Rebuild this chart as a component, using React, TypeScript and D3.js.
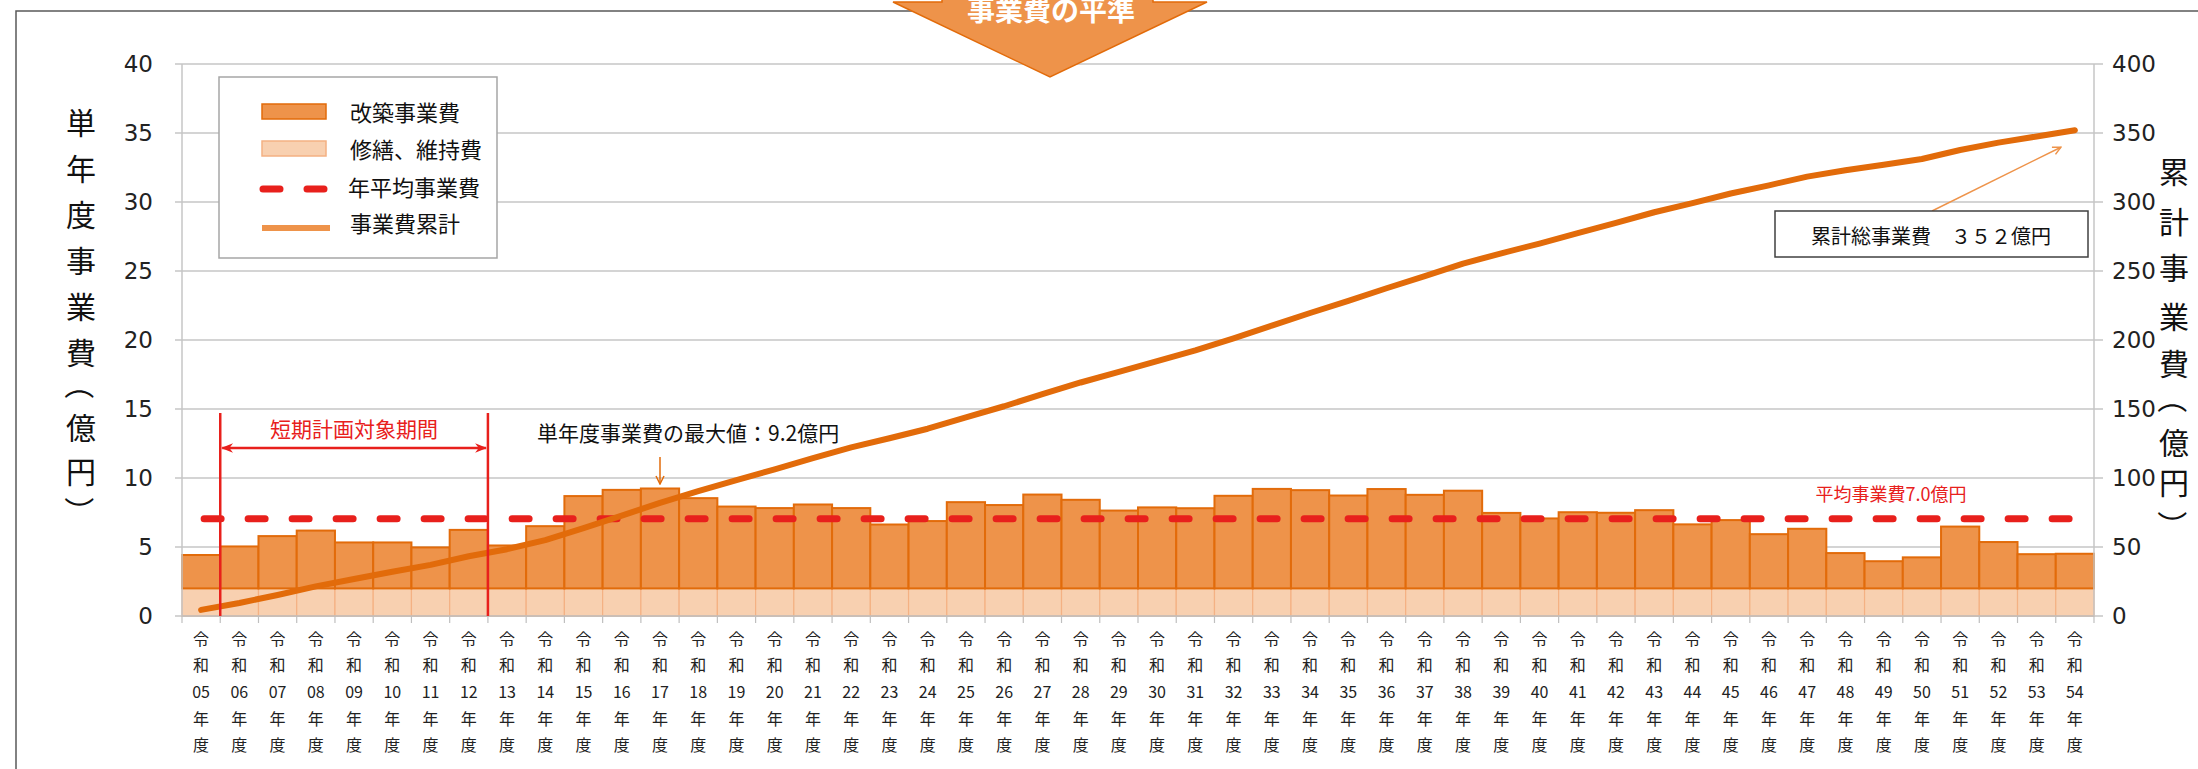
import React from 'react';
import * as d3 from 'd3';

const years = ['05','06','07','08','09','10','11','12','13','14','15','16','17','18','19','20','21','22','23','24','25','26','27','28','29','30','31','32','33','34','35','36','37','38','39','40','41','42','43','44','45','46','47','48','49','50','51','52','53','54'];

// 改築事業費 (億円)
const renovation = [2.42,3.04,3.79,4.19,3.33,3.33,2.97,4.24,3.11,4.51,6.69,7.14,7.24,6.54,5.93,5.82,6.08,5.82,4.63,4.88,6.25,6.04,6.80,6.42,5.64,5.87,5.81,6.71,7.21,7.12,6.73,7.20,6.78,7.08,5.47,5.07,5.52,5.48,5.67,4.64,4.95,3.93,4.32,2.56,1.97,2.25,4.48,3.36,2.48,2.51];

// 修繕、維持費 (億円)
const maintenance = [2,2,2,2,2,2,2,2,2,2,2,2,2,2,2,2,2,2,2,2,2,2,2,2,2,2,2,2,2,2,2,2,2,2,2,2,2,2,2,2,2,2,2,2,2,2,2,2,2,2];

// 事業費累計 (億円)
const cumulative = [4.42,9.46,15.25,21.44,26.77,32.10,37.07,43.31,48.42,54.93,63.62,72.76,82.00,90.54,98.47,106.29,114.37,122.19,128.82,135.70,143.95,151.99,160.79,169.21,176.85,184.72,192.53,201.24,210.45,219.57,228.30,237.50,246.28,255.36,262.83,269.90,277.42,284.90,292.57,299.21,306.16,312.09,318.41,322.97,326.94,331.19,337.67,343.03,347.51,352.02];

const averageCost = 7.04;
const leftTicks = [0,5,10,15,20,25,30,35,40];
const rightTicks = [0,50,100,150,200,250,300,350,400];

const JP = '"Noto Sans CJK JP", "Noto Sans", sans-serif';
const NUM = '"DejaVu Sans", Verdana, sans-serif';

const ORANGE = '#EE934A';
const ORANGE_DARK = '#E26B0A';
const LIGHT = '#F8D0B0';
const LIGHT_STROKE = '#F4B183';
const RED = '#E8201C';
const GRID = '#C6C6C6';

function VerticalTitle({ text, x, ys, size }: { text: string; x: number; ys: number[]; size: number }) {
  const chars = Array.from(text);
  return (
    <g fontFamily={JP} fontSize={size} fill="#111">
      {chars.map((c, i) => {
        const isOpen = c === '（';
        const isClose = c === '）';
        if (isOpen || isClose) {
          const cy = ys[i] + (isOpen ? -size * 0.25 : size * 0.25);
          return (
            <text key={i} x={x} y={cy} textAnchor="middle" dominantBaseline="central" transform={`rotate(90 ${x} ${cy})`}>{c}</text>
          );
        }
        return (
          <text key={i} x={x} y={ys[i]} textAnchor="middle" dominantBaseline="central">{c}</text>
        );
      })}
    </g>
  );
}

export default function App() {
  const W = 2198, H = 769;
  const left = 182, right = 2094, top = 64, bottom = 616;
  const x = d3.scaleBand<string>().domain(years).range([left, right]).padding(0);
  const bw = x.bandwidth();
  const cx = (y: string) => (x(y) as number) + bw / 2;
  const yL = d3.scaleLinear().domain([0, 40]).range([bottom, top]);
  const yR = d3.scaleLinear().domain([0, 400]).range([bottom, top]);

  const rows = years.map((y, i) => ({ year: y, maint: maintenance[i], renov: renovation[i] }));
  const series = d3.stack<any>().keys(['maint', 'renov'])(rows);

  const linePath = d3.line<number>()
    .x((_, i) => cx(years[i]))
    .y(d => yR(d))(cumulative) as string;

  const avgY = yL(averageCost);
  const avgPath = d3.line<[number, number]>()([[cx(years[0]) + 3, avgY], [cx(years[years.length - 1]), avgY]]) as string;

  const redL = x('06') as number;
  const redR = x('13') as number;
  const maxX = cx('17');
  const lastX = cx(years[years.length - 1]);
  const lastY = yR(cumulative[cumulative.length - 1]);

  const labelRows = [638, 664, 691, 718, 744];

  return (
    <svg width={W} height={H} viewBox={`0 0 ${W} ${H}`} style={{ position: 'absolute', left: 0, top: 0, background: '#fff' }}>
      <defs>
        <marker id="openArrowOrange" viewBox="0 0 10 10" refX="9" refY="5" markerWidth="10" markerHeight="10" markerUnits="userSpaceOnUse" orient="auto">
          <path d="M1,1 L9,5 L1,9" fill="none" stroke={ORANGE} strokeWidth={1.5} />
        </marker>
        <marker id="openArrowDark" viewBox="0 0 10 10" refX="9" refY="5" markerWidth="10" markerHeight="10" markerUnits="userSpaceOnUse" orient="auto">
          <path d="M1,1 L9,5 L1,9" fill="none" stroke={ORANGE_DARK} strokeWidth={1.5} />
        </marker>
        <marker id="redHead" viewBox="0 0 10 10" refX="9" refY="5" markerWidth="12" markerHeight="12" markerUnits="userSpaceOnUse" orient="auto-start-reverse">
          <path d="M0,1 L10,5 L0,9 L3,5 Z" fill={RED} />
        </marker>
      </defs>

      {/* outer frame */}
      <rect x={16} y={11} width={2400} height={1000} fill="none" stroke="#595959" strokeWidth={1.5} />

      {/* gridlines */}
      {leftTicks.map(t => (
        <line key={t} x1={left - 7} x2={right + 9} y1={yL(t)} y2={yL(t)} stroke={GRID} strokeWidth={1.5} />
      ))}

      {/* bars */}
      {series.map((s, si) => (
        <g key={si}>
          {s.map((d: any, i: number) => (
            <rect key={i}
              x={x(years[i]) as number}
              width={bw}
              y={yL(d[1])}
              height={yL(d[0]) - yL(d[1])}
              fill={si === 0 ? LIGHT : ORANGE}
              stroke={si === 0 ? LIGHT_STROKE : ORANGE_DARK}
              strokeWidth={si === 0 ? 1.2 : 2}
            />
          ))}
        </g>
      ))}

      {/* axes */}
      <line x1={left} x2={left} y1={top} y2={bottom} stroke={GRID} strokeWidth={1.5} />
      <line x1={right} x2={right} y1={top} y2={bottom} stroke={GRID} strokeWidth={1.5} />
      <line x1={left} x2={right} y1={bottom} y2={bottom} stroke="#BFBFBF" strokeWidth={1.5} />
      {years.concat(['end']).map((y, i) => {
        const xx = left + i * bw;
        return <line key={y} x1={xx} x2={xx} y1={bottom} y2={bottom + 7} stroke="#BFBFBF" strokeWidth={1.2} />;
      })}

      {/* tick labels */}
      <g fontFamily={NUM} fontSize={23} fill="#222">
        {leftTicks.map(t => (
          <text key={t} x={153} y={yL(t)} textAnchor="end" dominantBaseline="central">{t}</text>
        ))}
        {rightTicks.map(t => (
          <text key={t} x={2112} y={yR(t)} textAnchor="start" dominantBaseline="central">{t}</text>
        ))}
      </g>

      {/* x labels */}
      <g fontFamily={JP} fontSize={16} fill="#222">
        {years.map(y => {
          const parts = ['令', '和', y, '年', '度'];
          return parts.map((p, j) => (
            <text key={y + j} x={cx(y)} y={labelRows[j]} textAnchor="middle" dominantBaseline="central">{p}</text>
          ));
        })}
      </g>

      {/* average dashed line */}
      <path d={avgPath} stroke={RED} strokeWidth={7} strokeDasharray="17 27" strokeLinecap="round" fill="none" />

      {/* cumulative line */}
      <path d={linePath} stroke={ORANGE_DARK} strokeWidth={6} fill="none" strokeLinejoin="round" strokeLinecap="round" />

      {/* short-term plan */}
      <line x1={redL} x2={redL} y1={413} y2={bottom} stroke={RED} strokeWidth={2.5} />
      <line x1={redR} x2={redR} y1={413} y2={bottom} stroke={RED} strokeWidth={2.5} />
      <line x1={redL + 2} x2={redR - 2} y1={448} y2={448} stroke={RED} strokeWidth={2.5} markerStart="url(#redHead)" markerEnd="url(#redHead)" />
      <text x={(redL + redR) / 2} y={428} textAnchor="middle" dominantBaseline="central" fontFamily={JP} fontSize={21} fill={RED}>短期計画対象期間</text>

      {/* max annotation */}
      <text x={537} y={432} dominantBaseline="central" fontFamily={JP} fontSize={21} fill="#111">単年度事業費の最大値：9.2億円</text>
      <line x1={maxX} x2={maxX} y1={457} y2={484} stroke={ORANGE_DARK} strokeWidth={1.5} markerEnd="url(#openArrowDark)" />

      {/* average annotation */}
      <text x={1891} y={493} textAnchor="middle" dominantBaseline="central" fontFamily={JP} fontSize={18} fill={RED}>平均事業費7.0億円</text>

      {/* total annotation */}
      <line x1={1932} y1={211} x2={lastX - 14} y2={lastY + 17} stroke={ORANGE} strokeWidth={1.5} markerEnd="url(#openArrowOrange)" />
      <rect x={1775} y={211} width={313} height={46} fill="#fff" stroke="#404040" strokeWidth={1.5} />
      <text x={1931} y={235} textAnchor="middle" dominantBaseline="central" fontFamily={JP} fontSize={20} fill="#111">累計総事業費　３５２億円</text>

      {/* legend */}
      <rect x={219} y={77} width={278} height={181} fill="#fff" stroke="#A6A6A6" strokeWidth={1.5} />
      <rect x={262} y={104} width={64} height={15} fill={ORANGE} stroke={ORANGE_DARK} strokeWidth={1.5} />
      <rect x={262} y={141} width={64} height={15} fill={LIGHT} stroke={LIGHT_STROKE} strokeWidth={1.5} />
      <line x1={263} x2={330} y1={189} y2={189} stroke={RED} strokeWidth={7} strokeDasharray="17 27" strokeLinecap="round" />
      <line x1={262} x2={330} y1={228} y2={228} stroke={ORANGE} strokeWidth={6} />
      <g fontFamily={JP} fontSize={22} fill="#111">
        <text x={350} y={111} dominantBaseline="central">改築事業費</text>
        <text x={350} y={148} dominantBaseline="central">修繕、維持費</text>
        <text x={348} y={186} dominantBaseline="central">年平均事業費</text>
        <text x={350} y={222} dominantBaseline="central">事業費累計</text>
      </g>

      {/* axis titles */}
      <VerticalTitle text="単年度事業費（億円）" x={81} ys={[121, 167, 213, 259, 305, 351, 392, 426, 470, 504]} size={30} />
      <VerticalTitle text="累計事業費（億円）" x={2174} ys={[170, 220, 266, 315, 362, 406, 441, 481, 518]} size={30} />

      {/* banner */}
      <path d="M942,-5 L1153,-5 L1153,2 L1207,2 L1050,77 L893,2 L942,2 Z" fill={ORANGE} stroke={ORANGE_DARK} strokeWidth={1.5} />
      <text x={1051} y={21} textAnchor="middle" fontFamily={JP} fontWeight="bold" fontSize={28} fill="#fff">事業費の平準</text>
    </svg>
  );
}
